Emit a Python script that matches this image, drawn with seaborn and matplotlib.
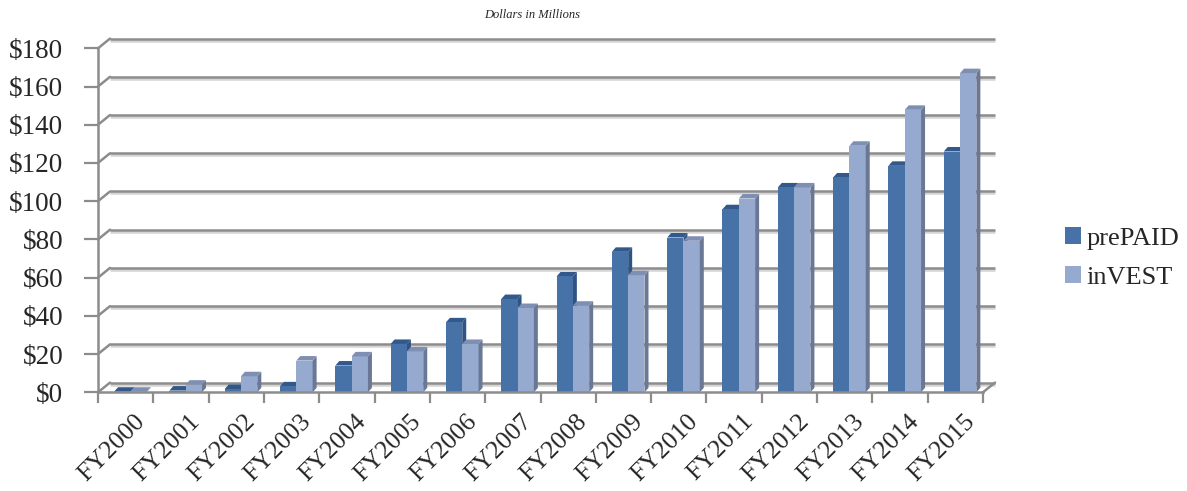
import numpy as np
import pandas as pd
import matplotlib
matplotlib.use("Agg")
import matplotlib.pyplot as plt
import matplotlib.transforms as mtrans
import seaborn as sns
from matplotlib.patches import Polygon

# ---- data ----
years = ["FY2000", "FY2001", "FY2002", "FY2003", "FY2004", "FY2005", "FY2006", "FY2007",
         "FY2008", "FY2009", "FY2010", "FY2011", "FY2012", "FY2013", "FY2014", "FY2015"]
prepaid = [0.3, 0.9, 1.7, 3.1, 14.0, 25.3, 36.6, 48.8, 60.6, 73.5, 81.0, 95.8, 107.2, 112.4, 118.5, 126.0]
invest = [0.3, 4.0, 8.4, 16.6, 18.8, 21.4, 25.3, 44.1, 45.3, 61.3, 79.3, 101.4, 107.2, 129.0, 147.8, 167.0]
series_names = ["prePAID", "inVEST"]
y_ticks = [0, 20, 40, 60, 80, 100, 120, 140, 160, 180]
y_tick_labels = ["$0", "$20", "$40", "$60", "$80", "$100", "$120", "$140", "$160", "$180"]
subtitle = "Dollars in Millions"

df = pd.DataFrame({
    "year": years * 2,
    "value": prepaid + invest,
    "series": [series_names[0]] * len(years) + [series_names[1]] * len(years),
})

# ---- style ----
sns.set_style("white")
plt.rcParams["font.family"] = ["Liberation Serif", "DejaVu Serif"]

front_cols = ["#4672A7", "#95AACE"]
side_cols = ["#2E5484", "#6A7896"]
top_cols = ["#33588A", "#7F8FB3"]
grid_col = "#8C8C8C"
shadow_col = "#D4D4D4"

W, H = 1187, 491
fig = plt.figure(figsize=(W / 100, H / 100), dpi=100)
ax = fig.add_axes([98 / W, (H - 392.3) / H, 885 / W, 344 / H])

sns.barplot(data=df, x="year", y="value", hue="series", order=years,
            hue_order=series_names, palette=front_cols, saturation=1,
            width=0.59, ax=ax, edgecolor="none", linewidth=0)

ax.set_xlim(-0.5, len(years) - 0.5)
ax.set_ylim(0, 180)

inv = ax.transData.inverted()
def px2data(dxp, dyp):
    o = ax.transData.transform((0, 0))
    p = inv.transform(o + np.array([dxp, dyp]))
    return p[0], p[1]

bx, by = px2data(12, 9.7)       # back-wall offset
sx, sy = px2data(0, -2.0)       # shadow offset
ddx, ddy = px2data(4.0, 4.5)    # bar depth
shift, _ = px2data(4.7, 0)      # bars sit slightly to the right

x_lo, x_hi = -0.5, len(years) - 0.5

# back wall gridlines with left connectors
for v in y_ticks:
    ax.plot([x_lo + bx, x_hi + bx], [v + by + sy, v + by + sy], color=shadow_col,
            lw=1.8, zorder=0.4, clip_on=False, solid_capstyle="butt")
    ax.plot([x_lo + bx, x_hi + bx], [v + by, v + by], color=grid_col,
            lw=1.8, zorder=0.5, clip_on=False, solid_capstyle="butt")
    ax.plot([x_lo, x_lo + bx], [v, v + by], color=grid_col, lw=1.8,
            zorder=0.5, clip_on=False)
# right floor connector
ax.plot([x_hi, x_hi + bx], [0, by], color=grid_col, lw=1.8, zorder=0.5, clip_on=False)

# pseudo-3D faces
for si, cont in enumerate(ax.containers):
    for p in cont:
        p.set_x(p.get_x() + shift)
        p.set_zorder(1.5 + si * 0.5)
        x0 = p.get_x()
        x1 = x0 + p.get_width()
        h = p.get_height()
        side = Polygon([(x1, 0), (x1 + ddx, ddy), (x1 + ddx, h + ddy), (x1, h)],
                       closed=True, facecolor=side_cols[si], edgecolor="none",
                       zorder=1.4 + si * 0.7)
        top = Polygon([(x0, h), (x1, h), (x1 + ddx, h + ddy), (x0 + ddx, h + ddy)],
                      closed=True, facecolor=top_cols[si], edgecolor="none",
                      zorder=1.4 + si * 0.7)
        ax.add_patch(side)
        ax.add_patch(top)

# axes and ticks
for s in ["top", "right"]:
    ax.spines[s].set_visible(False)
for s in ["left", "bottom"]:
    ax.spines[s].set_color(grid_col)
    ax.spines[s].set_linewidth(1.8)

ax.set_yticks(y_ticks)
ax.set_yticklabels(y_tick_labels, fontsize=19.5)
ax.tick_params(axis="y", length=10, width=1.6, color=grid_col, pad=15, direction="out", left=True)

ax.set_xticks(range(len(years)))
ax.set_xticklabels(years, rotation=45, ha="right", rotation_mode="anchor", fontsize=18.5)
ax.set_xticks(np.arange(x_lo, x_hi + 0.01, 1.0), minor=True)
ax.tick_params(axis="x", which="major", length=0, pad=13)
ax.tick_params(axis="x", which="minor", length=8, width=1.6, color=grid_col,
               direction="out", bottom=True)
for lab in ax.get_xticklabels():
    lab.set_transform(lab.get_transform() + mtrans.ScaledTranslation(8 / 100, 0, fig.dpi_scale_trans))

ax.set_xlabel("")
ax.set_ylabel("")
ax.grid(False)

# legend
handles, labels = ax.get_legend_handles_labels()
if ax.get_legend() is not None:
    ax.get_legend().remove()
fig.legend(handles, labels, loc="center left",
           bbox_to_anchor=(1065 / W, 1 - 258 / H), frameon=False, fontsize=19,
           handlelength=0.6, handleheight=0.6, handletextpad=0.2,
           labelspacing=0.6, borderpad=0, borderaxespad=0)

fig.text(532 / W, 1 - 15 / H, subtitle, ha="center", va="center",
         fontsize=9, style="italic")

fig.savefig("out.png", dpi=100)
